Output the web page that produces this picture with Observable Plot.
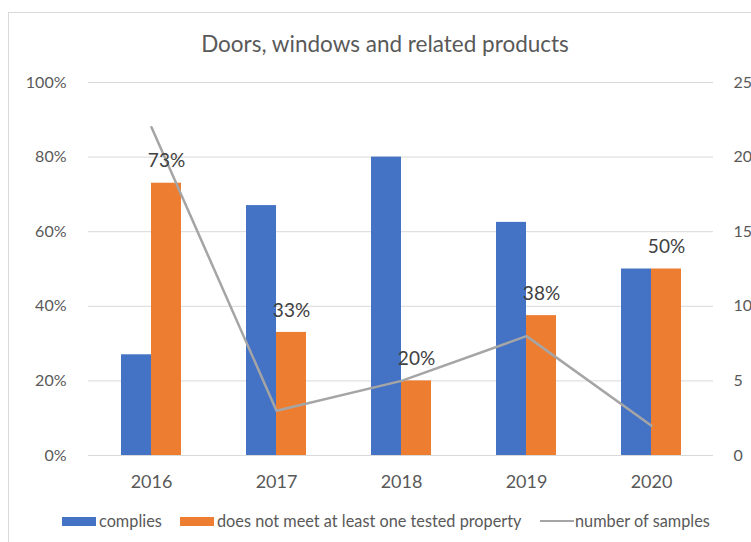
<!DOCTYPE html>
<html>
<head>
<meta charset="utf-8">
<script src="https://cdn.jsdelivr.net/npm/d3@7"></script>
<script src="https://cdn.jsdelivr.net/npm/@observablehq/plot@0.6"></script>
<style>
  html, body { margin: 0; padding: 0; background: #fff; }
  #wrap { position: relative; width: 751px; height: 542px; overflow: hidden; font-family: Lato, "Open Sans", sans-serif; }
  #frame { position: absolute; left: 8px; top: 12px; width: 760px; height: 560px; border-left: 1px solid #d9d9d9; border-top: 1px solid #d9d9d9; }
  #title { position: absolute; left: 0; width: 770px; top: 30px; text-align: center; font-size: 22.5px; line-height: 28px; color: #595959; }
  #chart { position: absolute; left: 0; top: 0; }
  .lg { position: absolute; top: 510px; font-size: 16.3px; color: #595959; line-height: 22px; white-space: nowrap; }
  .sw { position: absolute; }
</style>
</head>
<body>
<div id="wrap">
  <div id="frame"></div>
  <div id="chart"></div>
  <div id="title">Doors, windows and related products</div>
  <div id="legend"></div>
</div>
<script>
const years = ["2016", "2017", "2018", "2019", "2020"];
const complies = [0.27, 0.67, 0.80, 0.625, 0.50];
const notMeet = [0.73, 0.33, 0.20, 0.375, 0.50];
const samples = [22, 3, 5, 8, 2];
const leftTicks = [0, 0.2, 0.4, 0.6, 0.8, 1.0];
const rightTicks = [0, 5, 10, 15, 20, 25];
const rightMax = 25;
const seriesNames = ["complies", "does not meet at least one tested property", "number of samples"];
const colors = ["#4472c4", "#ed7d31", "#a5a5a5"];

const data = years.map((year, i) => ({year, complies: complies[i], notMeet: notMeet[i], samples: samples[i]}));

const chart = Plot.plot({
  width: 751,
  height: 500,
  marginTop: 82,
  marginBottom: 45,
  marginLeft: 88,
  marginRight: 38,
  style: {fontFamily: "Lato, 'Open Sans', sans-serif", color: "#595959", background: "transparent", overflow: "visible"},
  x: {domain: years, paddingInner: 0.52, paddingOuter: 0.26, label: null},
  y: {domain: [0, 1], label: null},
  marks: [
    Plot.gridY(leftTicks, {stroke: "#d9d9d9", strokeOpacity: 1}),
    Plot.barY(data, {x: "year", y: "complies", fill: colors[0], insetRight: 30}),
    Plot.barY(data, {x: "year", y: "notMeet", fill: colors[1], insetLeft: 30}),
    Plot.line(data, {x: "year", y: d => d.samples / rightMax, stroke: colors[2], strokeWidth: 2.5}),
    Plot.text(data, {x: "year", y: "notMeet", text: d => Math.round(d.notMeet * 100) + "%", dx: 15, dy: -22, fontSize: 19, fill: "#404040"}),
    Plot.axisX({tickSize: 0, tickPadding: 20, fontSize: 18, label: null}),
    Plot.axisY(leftTicks, {anchor: "left", tickSize: 0, tickPadding: 22, fontSize: 16, label: null, tickFormat: d => Math.round(d * 100) + "%"}),
    Plot.axisY(rightTicks.map(t => t / rightMax), {anchor: "right", tickSize: 0, tickPadding: 20, fontSize: 16, label: null, tickFormat: d => String(Math.round(d * rightMax))})
  ]
});
document.getElementById("chart").appendChild(chart);

const legend = document.getElementById("legend");
const items = [
  {x: 62, tx: 99, sw: "bar", color: colors[0], text: seriesNames[0]},
  {x: 180, tx: 217, sw: "bar", color: colors[1], text: seriesNames[1]},
  {x: 540, tx: 575, sw: "line", color: colors[2], text: seriesNames[2]}
];
items.forEach(it => {
  const s = document.createElement("div");
  s.className = "sw";
  s.style.left = it.x + "px";
  s.style.width = "34px";
  s.style.background = it.color;
  if (it.sw === "bar") { s.style.top = "517px"; s.style.height = "9px"; }
  else { s.style.top = "520px"; s.style.height = "2px"; }
  legend.appendChild(s);
  const t = document.createElement("div");
  t.className = "lg";
  t.style.left = it.tx + "px";
  t.textContent = it.text;
  legend.appendChild(t);
});
</script>
</body>
</html>
